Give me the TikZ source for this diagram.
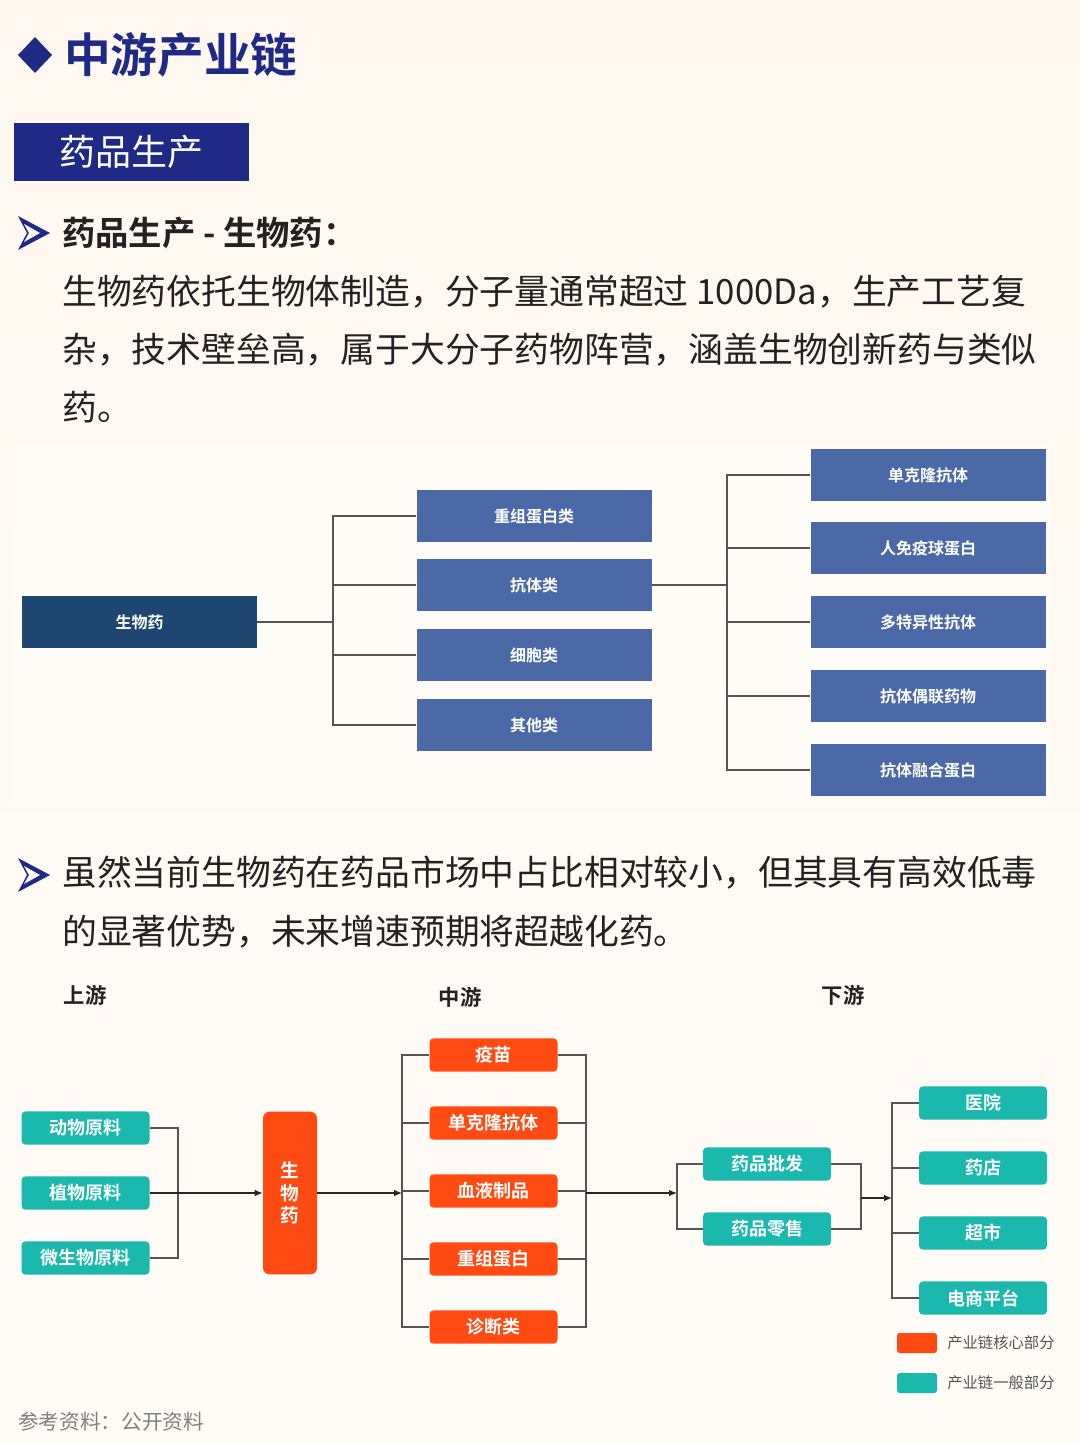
\documentclass[tikz,border=0pt]{standalone}
\usepackage{fontspec}
\setmainfont{Noto Sans CJK SC}[BoldFont={Noto Sans CJK SC Bold}]
\usetikzlibrary{arrows.meta}
\definecolor{navy}{HTML}{1F2A86}
\definecolor{dk}{HTML}{1D4670}
\definecolor{mid}{HTML}{4A69A6}
\definecolor{teal}{HTML}{1BB8AE}
\definecolor{org}{HTML}{FF4A12}
\definecolor{txt}{HTML}{222222}
\definecolor{ln}{HTML}{555555}
\tikzset{
 px/.style={x=0.75pt,y=-0.75pt},
 bx/.style={draw=none,inner sep=0pt,text=white,font=\bfseries\fontsize{12}{14}\selectfont},
 dkb/.style={bx,fill=dk,minimum width=176.25pt,minimum height=39pt},
 mdb/.style={bx,fill=mid,minimum width=176.25pt,minimum height=39pt},
 tb/.style={draw=none,fill=teal,rounded corners=3pt,text=white,font=\bfseries\fontsize{13.5}{15}\selectfont,minimum width=96pt,minimum height=25pt,inner sep=0pt},
 ob/.style={tb,fill=org},
 con/.style={draw=ln,line width=0.9pt},
 arr/.style={con,-{Latex[length=6pt,width=5pt]},draw=black!85},
 para/.style={anchor=west,inner sep=0pt,text=txt,font=\fontsize{26.1}{30}\selectfont},
}
\begin{document}
\begin{tikzpicture}[px]
\useasboundingbox (0,0) rectangle (1080,1443);
\fill[top color=orange!6,bottom color=orange!3] (0,0) rectangle (1080,1443);
\fill[white,opacity=0.35] (15,445) rectangle (1050,805);
% header
\fill[navy] (35,37) -- (52,55) -- (35,73) -- (18,55) -- cycle;
\node[anchor=west,inner sep=0pt,text=navy,font=\bfseries\fontsize{35}{40}\selectfont] (title) at (64,55) {中游产业链};
\node[fill=navy,minimum width=176.25pt,minimum height=43.5pt,inner sep=0pt,text=white,font=\fontsize{27}{30}\selectfont] (hbox) at (131.5,152) {药品生产};
% chevrons
\foreach \cy in {233,875}{
 \fill[navy] (18,\cy-17) -- (50,\cy) -- (18,\cy+17) -- (27,\cy) -- cycle;
 \fill[orange!5] (24,\cy-9) -- (40,\cy) -- (24,\cy+9) -- (29,\cy) -- cycle;
}
\node[para,font=\bfseries\fontsize{25}{28}\selectfont] (sub) at (62,233) {药品生产 - 生物药：};
\node[para] (p1) at (62,292) {生物药依托生物体制造，分子量通常超过 1000Da，生产工艺复};
\node[para] (p2) at (62,350) {杂，技术壁垒高，属于大分子药物阵营，涵盖生物创新药与类似};
\node[para] (p3) at (62,407) {药。};
% chart 1
\node[dkb] (root) at (139.5,622) {生物药};
\node[mdb] (m1) at (534,516) {重组蛋白类};
\node[mdb] (m2) at (534,585) {抗体类};
\node[mdb] (m3) at (534,655) {细胞类};
\node[mdb] (m4) at (534,725) {其他类};
\node[mdb] (r1) at (928,475) {单克隆抗体};
\node[mdb] (r2) at (928,548) {人免疫球蛋白};
\node[mdb] (r3) at (928,622) {多特异性抗体};
\node[mdb] (r4) at (928,696) {抗体偶联药物};
\node[mdb] (r5) at (928,770) {抗体融合蛋白};
\coordinate (j1) at (333,622);
\draw[con] (root.east) -- (j1);
\draw[con] (m1.west) -| (j1) |- (m4.west);
\draw[con] (j1 |- m2.west) -- (m2.west);
\draw[con] (j1 |- m3.west) -- (m3.west);
\coordinate (j2) at (727,585);
\draw[con] (m2.east) -- (j2);
\draw[con] (r1.west) -| (j2) |- (r5.west);
\foreach \r in {r2,r3,r4} \draw[con] (j2 |- \r.west) -- (\r.west);
% second
\node[para] (q1) at (62,873) {虽然当前生物药在药品市场中占比相对较小，但其具有高效低毒};
\node[para] (q2) at (62,932) {的显著优势，未来增速预期将超越化药。};
\node[text=txt,font=\bfseries\fontsize{16}{18}\selectfont] (l1) at (85,995) {上游};
\node[text=txt,font=\bfseries\fontsize{16}{18}\selectfont] (l2) at (460,997) {中游};
\node[text=txt,font=\bfseries\fontsize{16}{18}\selectfont] (l3) at (843,995) {下游};
% chart 2
\node[tb] (a1) at (85.5,1128) {动物原料};
\node[tb] (a2) at (85.5,1193) {植物原料};
\node[tb] (a3) at (85.5,1258) {微生物原料};
\node[ob,minimum width=40.5pt,minimum height=122pt,rounded corners=5pt,align=center,font=\bfseries\fontsize{14}{17}\selectfont] (bio) at (290,1193) {生\\物\\药};
\node[ob] (b1) at (493.5,1055) {疫苗};
\node[ob] (b2) at (493.5,1123) {单克隆抗体};
\node[ob] (b3) at (493.5,1191) {血液制品};
\node[ob] (b4) at (493.5,1259) {重组蛋白};
\node[ob] (b5) at (493.5,1327) {诊断类};
\node[tb] (d1) at (767,1164) {药品批发};
\node[tb] (d2) at (767,1229) {药品零售};
\node[tb] (e1) at (983,1103) {医院};
\node[tb] (e2) at (983,1168) {药店};
\node[tb] (e3) at (983,1233) {超市};
\node[tb] (e4) at (983,1298) {电商平台};
\coordinate (k1) at (178,1193);
\draw[con] (a1.east) -| (k1) |- (a3.east);
\draw[arr] (a2.east) -- (bio.west);
\coordinate (k2) at (402,1193);
\draw[arr] (bio.east) -- (k2);
\draw[con] (b1.west) -| (k2) |- (b5.west);
\foreach \b in {b2,b3,b4} \draw[con] (k2 |- \b.west) -- (\b.west);
\coordinate (k3) at (586,1193);
\draw[con] (b1.east) -| (k3) |- (b5.east);
\foreach \b in {b2,b3,b4} \draw[con] (\b.east) -- (k3 |- \b.east);
\coordinate (k4) at (677,1193);
\draw[arr] (k3) -- (k4);
\draw[con] (d1.west) -| (k4) |- (d2.west);
\coordinate (k5) at (861,1198);
\draw[con] (d1.east) -| (k5) |- (d2.east);
\coordinate (k6) at (892,1198);
\draw[arr] (k5) -- (k6);
\draw[con] (e1.west) -| (k6) |- (e4.west);
\foreach \e in {e2,e3} \draw[con] (k6 |- \e.west) -- (\e.west);
% legend
\fill[org,rounded corners=2pt] (897,1333) rectangle (937,1353);
\node[anchor=west,inner sep=0pt,text=ln,font=\fontsize{11.5}{13}\selectfont] (lg1) at (947,1343) {产业链核心部分};
\fill[teal,rounded corners=2pt] (897,1373) rectangle (937,1393);
\node[anchor=west,inner sep=0pt,text=ln,font=\fontsize{11.5}{13}\selectfont] (lg2) at (947,1383) {产业链一般部分};
\node[anchor=west,inner sep=0pt,text=gray,font=\fontsize{15.5}{17}\selectfont] (foot) at (18,1422) {参考资料：公开资料};
\end{tikzpicture}
\end{document}
